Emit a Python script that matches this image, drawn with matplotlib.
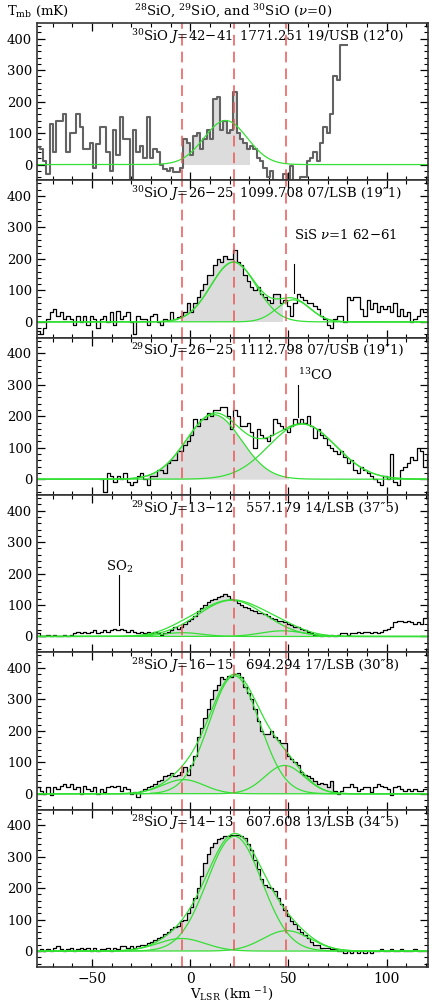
import numpy as np
import matplotlib.pyplot as plt
from matplotlib.ticker import MultipleLocator

plt.rcParams['font.family'] = ['DejaVu Serif', 'DejaVu Sans']
plt.rcParams['mathtext.fontset'] = 'dejavuserif'

# channel width (km/s) and first channel edge of each spectrum
DV = 1.698
v_start = [-78.3, -78.3, -46.0, -78.3, -78.3, -78.3]

tmb_30sio_42 = [55, 50, 10, -30, 130, 40, 140, 140, 160, 40, 100, 100, 160, 120, 50, 50,
                70, -10, 65, 120, 120, 40, -20, 110, 30, 150, 80, 80, -60, 110, 40, 60,
                20, 150, 20, 50, 40, 0, -15, -20, -10, -25, -25, -10, 80, 70, 30, 90,
                100, 50, 80, 110, 80, 210, 215, 110, 140, 100, 110, 230, 100, 80, 70, 50,
                60, 50, 20, 10, -10, -40, -20, -50, -60, -60, -30, -70, -5, -60, -60, -40,
                -40, 10, 20, 40, 10, 70, 120, 100, 160, 280, 270, 380, 380]
tmb_30sio_26 = [-30, -40, -20, 10, 30, 40, 20, 30, 10, 20, 10, -10, 20, 0, 20, -10,
                20, 10, -20, 10, 20, 0, 30, -10, 35, 10, 20, 30, 0, -40, 20, 10,
                10, -10, 20, 25, 0, -10, 10, 5, 30, 10, 15, 20, 30, 60, 30, 60,
                80, 100, 120, 150, 150, 180, 200, 190, 210, 200, 200, 230, 190, 180, 150, 130,
                110, 100, 110, 90, 80, 70, 60, 90, 90, 60, 70, 50, 20, 60, 90, 80,
                70, 60, 60, 50, 40, 20, 10, -10, -20, 10, 20, 20, 0, 80, 70, 80,
                80, 40, 20, 70, 40, 60, 30, 50, 40, 50, 30, 60, 20, 40, 20, 30,
                0, 10, 20, 40, 30, 40]
tmb_29sio_26 = [0, -40, 20, 10, -10, 10, 0, 20, -10, -20, -10, 10, 20, 0, -20, 10,
                10, 30, 30, 20, 50, 60, 60, 90, 90, 110, 120, 140, 190, 170, 190, 190,
                210, 200, 220, 220, 230, 230, 200, 160, 220, 200, 170, 170, 180, 150, 100, 160,
                140, 130, 120, 140, 190, 180, 170, 160, 150, 170, 190, 180, 190, 180, 200, 170,
                130, 160, 140, 130, 110, 100, 90, 80, 90, 70, 50, 60, 30, 20, 40, 30,
                20, 10, 0, -10, -20, 10, 0, 80, -10, -20, 30, 40, 50, 70, 60, 100,
                90, 40, 80]
tmb_29sio_13 = [10, 0, 0, 5, 0, 5, 0, 0, 5, 0, 5, 10, 15, 10, 15, 10,
                15, 20, 10, 15, 20, 15, 20, 25, 20, 25, 20, 15, 20, 15, 10, 15,
                10, 15, 10, 15, 10, 5, 10, 15, 20, 30, 25, 30, 40, 50, 55, 65,
                80, 90, 100, 110, 115, 120, 125, 130, 135, 130, 120, 115, 105, 100, 95, 90,
                85, 80, 75, 75, 70, 65, 60, 55, 50, 50, 45, 40, 35, 30, 30, 25,
                20, 15, 10, 5, 5, 0, 5, 0, 5, 0, 5, 10, 10, 5, 10, 10,
                15, 10, 15, 15, 10, 15, 10, 15, 20, 25, 30, 45, 50, 50, 45, 50,
                45, 40, 45, 40, 60, 80]
tmb_28sio_16 = [20, 10, 0, 20, -5, 20, 15, 25, 30, 20, 30, 15, 20, 0, 25, 15,
                10, 20, 0, 15, 5, 20, 25, 20, 25, 10, 20, 15, 0, 5, -10, 10,
                15, 20, 25, 30, 40, 45, 55, 60, 65, 55, 60, 70, 85, 60, 90, 120,
                180, 210, 240, 270, 300, 330, 345, 370, 365, 375, 370, 380, 385, 370, 340, 320,
                300, 270, 230, 200, 190, 190, 200, 180, 170, 160, 160, 120, 110, 100, 90, 70,
                60, 55, 50, 40, 30, 35, 30, 20, 40, 10, 0, 10, 20, 20, 30, 20,
                10, 15, 20, 20, 5, 20, 30, 25, 20, 15, -5, 20, 25, 15, 10, 15,
                10, 15, 10, 10, 15, 15]
tmb_28sio_14 = [0, 5, 0, 5, 0, 10, 15, 5, 0, 5, 10, 0, 5, 10, 5, 10,
                0, 10, 0, 5, 5, 10, 0, 10, 5, 15, 15, 10, 15, 10, 15, 20,
                20, 25, 30, 35, 40, 45, 55, 60, 70, 75, 80, 95, 100, 120, 140, 170,
                200, 240, 280, 310, 330, 345, 355, 360, 365, 365, 370, 370, 368, 365, 360, 340,
                320, 290, 260, 230, 210, 205, 200, 190, 170, 150, 130, 110, 95, 85, 70, 60,
                50, 40, 30, 20, 20, 10, 10, 10, 5, 5, 0, 0, -5, 0, -5, 0,
                -5, 0, -5, 0, -5, 0, 0, 5, 0, 0, 5, 0, 0, 5, 0, 0,
                0, 5, 0]

spectra = [tmb_30sio_42, tmb_30sio_26, tmb_29sio_26, tmb_29sio_13, tmb_28sio_16, tmb_28sio_14]

# gaussian fit components: (peak mK, centre km/s, sigma km/s)
fit_30sio_42 = [(140, 18, 11)]
fit_30sio_26 = [(190, 22, 11.5), (70, 52.5, 8.5)]
fit_29sio_26 = [(205, 12, 14), (175, 57, 17)]
fit_29sio_13 = [(115, 21, 17), (12, -4, 10), (18, 47, 11)]
fit_28sio_16 = [(375, 22.5, 12.8), (45, -3.5, 10.5), (90, 48, 10)]
fit_28sio_14 = [(365, 22.5, 14), (40, -4.5, 12), (65, 49, 12)]
fits = [fit_30sio_42, fit_30sio_26, fit_29sio_26, fit_29sio_13, fit_28sio_16, fit_28sio_14]

# velocity range of the shaded area
shade = [(-4.4, 30.4), (-4.4, 48.6), (-22, 50), (-15, 72), (-22, 75), (-22, 68)]

lines = [r"$^{30}$SiO $J$=42$-$41", r"$^{30}$SiO $J$=26$-$25", r"$^{29}$SiO $J$=26$-$25",
         r"$^{29}$SiO $J$=13$-$12", r"$^{28}$SiO $J$=16$-$15", r"$^{28}$SiO $J$=14$-$13"]
freqs = ["1771.251 19/USB (12\u20330)", "1099.708 07/LSB (19\u20331)",
         "1112.798 07/USB (19\u20331)", "557.179 14/LSB (37\u20335)",
         "694.294 17/LSB (30\u20338)", "607.608 13/LSB (34\u20335)"]

v_marks = [-4.4, 22.3, 48.6]

GREEN = '#33e033'
W_PX, H_PX = 432, 1006
fig = plt.figure(figsize=(W_PX / 100, H_PX / 100), dpi=100)

left, right = 37 / W_PX, 428 / W_PX
top_px, ph_px = 23, 157.3
vgrid = np.linspace(-80, 125, 800)


def gauss(v, a, c, s):
    return a * np.exp(-0.5 * ((v - c) / s) ** 2)


axes = []
for k in range(6):
    bottom = 1 - (top_px + (k + 1) * ph_px) / H_PX
    ax = fig.add_axes([left, bottom, right - left, ph_px / H_PX])
    axes.append(ax)

    vals = np.array(spectra[k], dtype=float)
    edges = v_start[k] + DV * np.arange(len(vals) + 1)
    x = np.repeat(edges, 2)[1:-1]
    y = np.repeat(vals, 2)

    a, b = shade[k]
    if k == 2:
        vv = np.linspace(a, b, 300)
        ax.fill_between(vv, gauss(vv, *fits[k][0]), 0, color='#dcdcdc', lw=0)
    else:
        ax.fill_between(x, y, 0, where=(x >= a) & (x <= b), color='#dcdcdc', lw=0)

    if k == 0:
        ax.plot(x, y, color='#636363', lw=1.5)
    else:
        ax.plot(x, y, color='black', lw=0.9)

    total = np.zeros_like(vgrid)
    for p in fits[k]:
        g = gauss(vgrid, *p)
        total += g
        ax.plot(vgrid, g, color=GREEN, lw=0.9)
    if len(fits[k]) > 1:
        ax.plot(vgrid, total, color=GREEN, lw=0.9)

    for vm in v_marks:
        ax.axvline(vm, color='#ee5555', lw=1.1, dashes=(7, 4))

    ax.set_xlim(-78, 121)
    ax.set_ylim(-50, 450)
    ax.xaxis.set_major_locator(MultipleLocator(50))
    ax.xaxis.set_minor_locator(MultipleLocator(10))
    ax.yaxis.set_major_locator(MultipleLocator(100))
    ax.yaxis.set_minor_locator(MultipleLocator(20))
    ax.tick_params(which='both', direction='in', top=True, right=True, labelsize=9.5)
    ax.tick_params(which='major', length=6, width=0.9)
    ax.tick_params(which='minor', length=3, width=0.8)
    ax.tick_params(axis='x', which='major', pad=4, labelsize=10)
    ax.set_yticks([0, 100, 200, 300, 400])
    for s in ax.spines.values():
        s.set_color('#333333')
        s.set_linewidth(1.2)
    if k < 5:
        ax.tick_params(labelbottom=False)

    ax.text(-30, 408, lines[k], fontsize=9.5, va='center')
    ax.text(25.3 if k < 3 else 28.5, 408, freqs[k], fontsize=9.5, va='center')

# side features
axes[1].plot([53, 53], [92, 184], color='black', lw=0.8)
axes[1].text(53, 277, r"SiS $\nu$=1 62$-$61", fontsize=9.5, va='center')
axes[2].plot([55, 55], [199, 300], color='black', lw=0.8)
axes[2].text(55, 330, r"$^{13}$CO", fontsize=9.5, va='center')
axes[3].plot([-36.2, -36.2], [37, 196], color='black', lw=0.8)
axes[3].text(-36.2, 220, r"SO$_2$", fontsize=9.5, va='center', ha='center')

axes[5].set_xlabel(r"V$_{\rm LSR}$ (km $^{-1}$)", fontsize=9.5, labelpad=0)

fig.text(7 / W_PX, 1 - 11 / H_PX, r"T$_{\rm mb}$ (mK)", fontsize=9.5, va='center')
fig.text(233 / W_PX, 1 - 11 / H_PX,
         r"$^{28}$SiO, $^{29}$SiO, and $^{30}$SiO ($\nu$=0)",
         fontsize=9.5, va='center', ha='center')

fig.savefig("out.png", dpi=100)
